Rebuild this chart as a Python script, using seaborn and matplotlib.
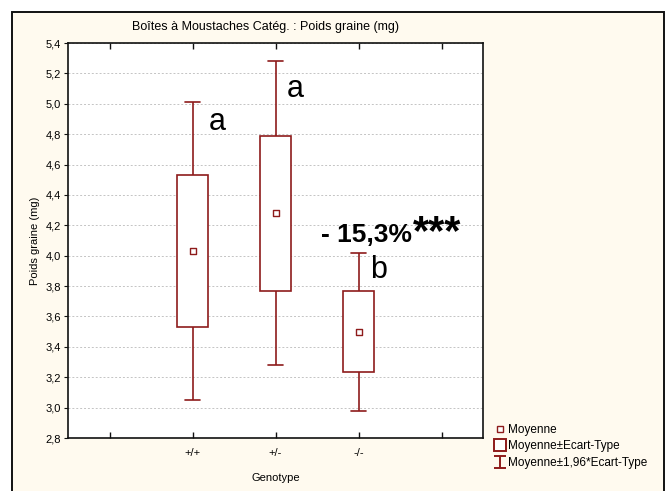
import numpy as np
import pandas as pd
import matplotlib
matplotlib.use("Agg")
import matplotlib.pyplot as plt
from matplotlib.patches import Rectangle
from matplotlib.lines import Line2D
from matplotlib.path import Path
from matplotlib.ticker import FuncFormatter
import seaborn as sns

# Seed weight per genotype: mean and standard deviation (mg)
genotypes = ["+/+", "+/-", "-/-"]
means = [4.03, 4.28, 3.50]
sds = [0.50, 0.51, 0.265]

# Letters of significance and the annotation on the -/- group
letters = ["a", "a", "b"]
change_label = "- 15,3%"
stars_label = "***"

# Category slots: an empty slot on each side of the three genotypes
order = ["", "+/+", "+/-", "-/-", " "]
yticks = [2.8, 3.0, 3.2, 3.4, 3.6, 3.8, 4.0, 4.2, 4.4, 4.6, 4.8, 5.0, 5.2, 5.4]

# Each group is given its five-number summary so the box spans mean ± SD
# and the whiskers span mean ± 1.96 SD.
rows = []
for g, m, s in zip(genotypes, means, sds):
    for v in (m - 1.96 * s, m - s, m, m + s, m + 1.96 * s):
        rows.append({"Genotype": g, "Poids": v})
df = pd.DataFrame(rows)
stats = pd.DataFrame({"Genotype": genotypes, "Moyenne": means})

sns.set_theme(style="ticks")
plt.rcParams["font.family"] = ["Liberation Sans", "DejaVu Sans"]
plt.rcParams.update({"text.color": "black", "axes.labelcolor": "black",
                     "xtick.color": "black", "ytick.color": "black"})

RED = "#8E1B1B"
CREAM = "#FFFAEF"

fig = plt.figure(figsize=(6.67, 4.91), dpi=100)
fig.patch.set_facecolor("white")
fig.patches.append(Rectangle((12 / 667, -0.02), (664 - 12) / 667, 1 - 12 / 491 + 0.02,
                             transform=fig.transFigure, facecolor=CREAM,
                             edgecolor="#111111", linewidth=1.4, zorder=-10))

ax = fig.add_axes([68 / 667, 1 - 438 / 491, (483 - 68) / 667, (438 - 43) / 491])
ax.set_facecolor("white")

sns.boxplot(data=df, x="Genotype", y="Poids", order=order, whis=(0, 100),
            width=0.38, color="white", linecolor=RED, linewidth=1.2,
            medianprops={"visible": False}, ax=ax)
sns.scatterplot(data=stats, x="Genotype", y="Moyenne", marker="s", s=20,
                facecolor="white", edgecolor=RED, linewidth=1.0, zorder=5, ax=ax)

ax.set_xlim(-0.5, 4.5)
ax.set_ylim(2.8, 5.4)
ax.set_yticks(yticks)
ax.yaxis.set_major_formatter(FuncFormatter(lambda v, p: f"{v:.1f}".replace(".", ",")))
ax.set_xticks(range(len(order)))
ax.set_xticklabels(order)

ax.set_axisbelow(True)
ax.yaxis.grid(True, linestyle=(0, (2, 2)), color="#c4c4c4", linewidth=0.7)
ax.xaxis.grid(False)

for sp in ax.spines.values():
    sp.set_visible(True)
    sp.set_color("#111111")
    sp.set_linewidth(1.2)

ax.tick_params(axis="x", direction="in", top=True, bottom=True, length=4,
               width=1.0, color="#111111", labelsize=8, pad=7)
ax.tick_params(axis="y", direction="out", length=3, width=0.8, color="#111111",
               labelsize=8, pad=2)

ax.set_xlabel("Genotype", fontsize=8, labelpad=11)
ax.set_ylabel("Poids graine (mg)", fontsize=8, labelpad=4)

fig.text(265 / 667, 1 - 27 / 491, "Boîtes à Moustaches Catég. : Poids graine (mg)",
         fontsize=9, ha="center", va="center")

# Significance letters
letter_pos = [(1.19, 4.83), (2.14, 5.045), (3.14, 3.853)]
for lab, (xx, yy) in zip(letters, letter_pos):
    ax.text(xx, yy, lab, fontsize=22, ha="left", va="baseline")

ax.text(2.55, 4.09, change_label, fontsize=19, fontweight="bold", ha="left", va="baseline")
ax.text(3.66, 4.075, stars_label, fontsize=30, fontweight="bold", ha="left", va="baseline")

# Legend handles: small mean square, SD box and 1.96 SD I-beam
ibeam = Path([(-1, 1), (1, 1), (0, 1), (0, -1), (-1, -1), (1, -1)],
             [Path.MOVETO, Path.LINETO, Path.MOVETO, Path.LINETO, Path.MOVETO, Path.LINETO])
handles = [
    Line2D([], [], marker="s", linestyle="none", markersize=4,
           markerfacecolor="white", markeredgecolor=RED, markeredgewidth=1.0),
    Line2D([], [], marker="s", linestyle="none", markersize=8.5,
           markerfacecolor="white", markeredgecolor=RED, markeredgewidth=1.4),
    Line2D([], [], marker=ibeam, linestyle="none", markersize=8.5,
           markerfacecolor="none", markeredgecolor=RED, markeredgewidth=1.4),
]
labels = ["Moyenne", "Moyenne±Ecart-Type", "Moyenne±1,96*Ecart-Type"]
fig.legend(handles, labels, loc="upper left", bbox_to_anchor=(489 / 667, 1 - 419 / 491),
           frameon=False, fontsize=8.5, handlelength=1.0, handletextpad=0.2,
           labelspacing=0.4, borderaxespad=0)

fig.savefig("out.png", dpi=100, facecolor=fig.get_facecolor())
